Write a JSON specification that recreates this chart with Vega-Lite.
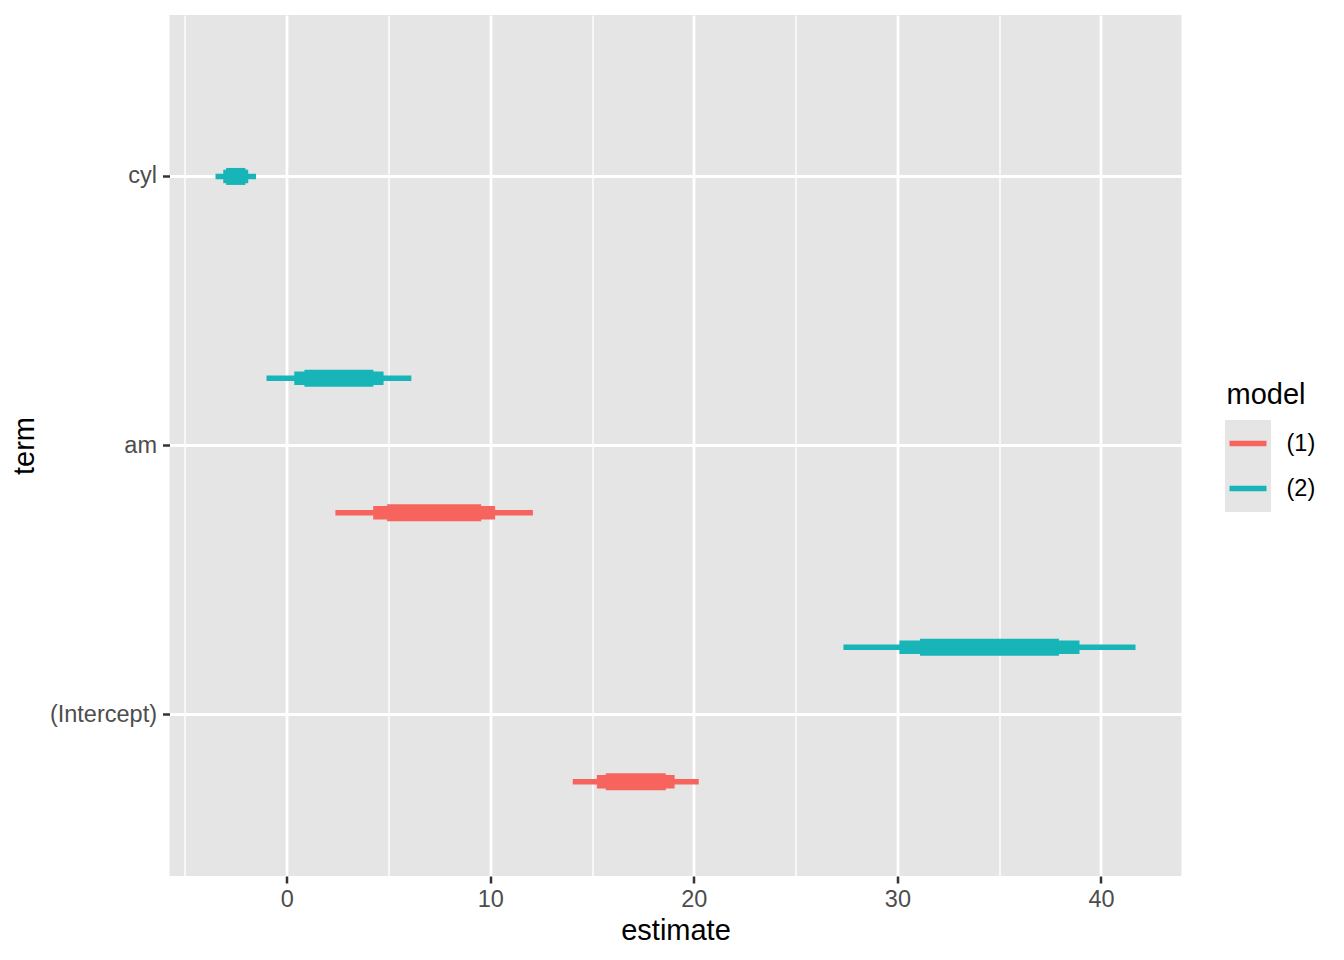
{
  "$schema": "https://vega.github.io/schema/vega-lite/v6.json",
  "width": 1012,
  "height": 861,
  "autosize": {"type": "none"},
  "padding": {"left": 169.5, "top": 15, "right": 162.5, "bottom": 84},
  "background": "white",
  "config": {
    "view": {"fill": "#E5E5E5", "stroke": null},
    "font": "Liberation Sans",
    "axis": {
      "domain": false,
      "gridColor": "white",
      "tickColor": "#333333",
      "labelColor": "#4D4D4D",
      "labelFont": "Liberation Sans",
      "labelFontSize": 23.5,
      "titleFont": "Liberation Sans",
      "titleFontSize": 29,
      "titleFontWeight": "normal",
      "titleColor": "black"
    }
  },
  "data": {
    "values": [
      {"term": "(Intercept)", "model": "(1)", "level": "99", "low": 14.053, "high": 20.241},
      {"term": "(Intercept)", "model": "(1)", "level": "90", "low": 15.238, "high": 19.056},
      {"term": "(Intercept)", "model": "(1)", "level": "80", "low": 15.673, "high": 18.621},
      {"term": "am", "model": "(1)", "level": "99", "low": 2.394, "high": 12.096},
      {"term": "am", "model": "(1)", "level": "90", "low": 4.251, "high": 10.239},
      {"term": "am", "model": "(1)", "level": "80", "low": 4.934, "high": 9.556},
      {"term": "(Intercept)", "model": "(2)", "level": "99", "low": 27.348, "high": 41.696},
      {"term": "(Intercept)", "model": "(2)", "level": "90", "low": 30.1, "high": 38.944},
      {"term": "(Intercept)", "model": "(2)", "level": "80", "low": 31.109, "high": 37.935},
      {"term": "am", "model": "(2)", "level": "99", "low": -0.991, "high": 6.125},
      {"term": "am", "model": "(2)", "level": "90", "low": 0.374, "high": 4.76},
      {"term": "am", "model": "(2)", "level": "80", "low": 0.874, "high": 4.26},
      {"term": "cyl", "model": "(2)", "level": "99", "low": -3.496, "high": -1.506},
      {"term": "cyl", "model": "(2)", "level": "90", "low": -3.114, "high": -1.888},
      {"term": "cyl", "model": "(2)", "level": "80", "low": -2.974, "high": -2.028}
    ]
  },
  "layer": [
    {
      "transform": [{"filter": "datum.term !== 'cyl'"}],
      "mark": {"type": "rule", "strokeCap": "butt"},
      "encoding": {
        "x": {
          "field": "low", "type": "quantitative",
          "scale": {"domain": [-5.755, 43.955], "nice": false, "zero": false},
          "title": "estimate",
          "axis": {
            "orient": "bottom",
            "values": [0, 10, 20, 30, 40],
            "grid": true, "gridWidth": 2.8,
            "ticks": true, "tickSize": 7, "tickWidth": 2.5,
            "labelPadding": 4, "titlePadding": 6
          }
        },
        "x2": {"field": "high"},
        "y": {
          "field": "term", "type": "nominal",
          "scale": {"domain": ["cyl", "am", "(Intercept)"], "paddingInner": 0, "paddingOuter": 0.1},
          "title": "term",
          "axis": {
            "bandPosition": 0.5,
            "grid": true, "gridWidth": 2.8,
            "ticks": true, "tickSize": 7, "tickWidth": 2.5,
            "labelPadding": 6, "titlePadding": 10
          }
        },
        "yOffset": {
          "field": "model", "type": "nominal",
          "scale": {"domain": ["(2)", "(1)"], "paddingInner": 0, "paddingOuter": 0}
        },
        "color": {
          "field": "model", "type": "nominal",
          "scale": {"domain": ["(1)", "(2)"], "range": ["#F7645D", "#18B5B8"]},
          "legend": {
            "title": "model",
            "orient": "none",
            "legendX": 1057,
            "legendY": 366,
            "zindex": 2,
            "padding": 0,
            "symbolType": "stroke",
            "symbolSize": 1369,
            "symbolStrokeWidth": 5.5,
            "titleFont": "Liberation Sans",
            "titleFontSize": 29,
            "titleFontWeight": "normal",
            "titleColor": "black",
            "titlePadding": 12,
            "labelFont": "Liberation Sans",
            "labelFontSize": 23.5,
            "labelColor": "black",
            "labelOffset": 17,
            "rowPadding": 12
          }
        },
        "opacity": {
          "field": "term", "type": "nominal",
          "scale": {"range": [1, 1]},
          "legend": {
            "title": null,
            "orient": "none",
            "legendX": 1055.5,
            "legendY": 405,
            "zindex": 1,
            "padding": 0,
            "symbolType": "square",
            "symbolSize": 2116,
            "symbolFillColor": "#E5E5E5",
            "symbolStrokeColor": "#E5E5E5",
            "symbolStrokeWidth": 0,
            "symbolOpacity": 1,
            "labelExpr": "''",
            "labelFontSize": 10,
            "rowPadding": 0
          }
        },
        "strokeWidth": {
          "field": "level", "type": "ordinal",
          "scale": {"type": "ordinal", "domain": ["99", "90", "80"], "range": [5.5, 13.5, 17]},
          "legend": null
        }
      }
    },
    {
      "transform": [{"filter": "datum.term === 'cyl'"}],
      "mark": {"type": "rule", "strokeCap": "butt"},
      "encoding": {
        "x": {
          "field": "low", "type": "quantitative",
          "axis": {
            "orient": "top",
            "values": [-5, 5, 15, 25, 35],
            "grid": true, "gridWidth": 1.4,
            "ticks": false, "labels": false, "title": null
          }
        },
        "x2": {"field": "high"},
        "y": {"field": "term", "type": "nominal"},
        "color": {"field": "model", "type": "nominal"},
        "strokeWidth": {
          "field": "level", "type": "ordinal",
          "scale": {"type": "ordinal", "domain": ["99", "90", "80"], "range": [5.5, 13.5, 17]},
          "legend": null
        }
      }
    }
  ],
  "resolve": {"axis": {"x": "independent"}}
}
